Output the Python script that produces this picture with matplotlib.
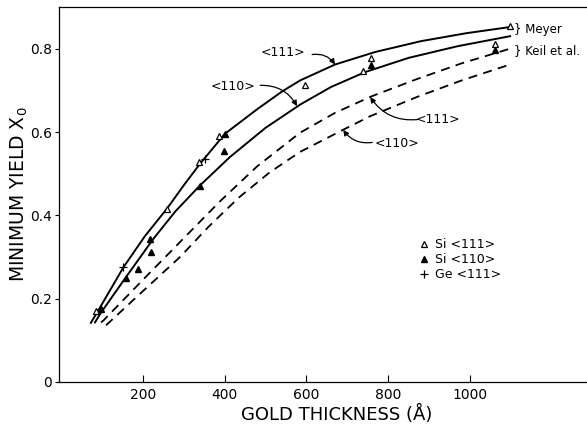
import matplotlib
matplotlib.use("Agg")
import matplotlib.pyplot as plt

plt.rcParams["mathtext.default"] = "regular"

# curves (gold thickness in Angstrom, minimum yield)
meyer_111_x = [73, 96, 153, 205, 259, 300, 340, 401, 480, 540, 585, 670, 768, 880, 990, 1098]
meyer_111_y = [0.142, 0.180, 0.276, 0.350, 0.416, 0.472, 0.524, 0.596, 0.655, 0.697,
               0.724, 0.762, 0.792, 0.818, 0.837, 0.852]

meyer_110_x = [83, 96, 159, 226, 280, 340, 413, 500, 585, 660, 744, 850, 970, 1098]
meyer_110_y = [0.143, 0.164, 0.252, 0.344, 0.410, 0.472, 0.540, 0.610, 0.666, 0.708,
               0.744, 0.778, 0.806, 0.830]

keil_111_x = [98, 104, 200, 291, 389, 480, 584, 670, 760, 870, 980, 1098]
keil_111_y = [0.143, 0.148, 0.245, 0.336, 0.434, 0.518, 0.598, 0.646, 0.686, 0.727,
              0.765, 0.800]

keil_110_x = [110, 200, 291, 360, 434, 510, 584, 687, 756, 870, 980, 1098]
keil_110_y = [0.136, 0.218, 0.300, 0.372, 0.442, 0.503, 0.552, 0.604, 0.638, 0.684,
              0.724, 0.762]

# measured points
si111_x = [86, 259, 338, 387, 597, 739, 757, 1060, 1098]
si111_y = [0.170, 0.416, 0.528, 0.590, 0.712, 0.746, 0.778, 0.812, 0.854]

si110_x = [97, 159, 188, 220, 218, 340, 399, 400, 757, 1060]
si110_y = [0.176, 0.250, 0.270, 0.313, 0.344, 0.471, 0.554, 0.596, 0.760, 0.798]

ge111_x = [152, 352]
ge111_y = [0.276, 0.535]

xticks = [200, 400, 600, 800, 1000]
yticks = [0, 0.2, 0.4, 0.6, 0.8]
ytick_labels = ["0", "0.2", "0.4", "0.6", "0.8"]

fig = plt.figure(figsize=(5.87, 4.25), dpi=100)
ax = fig.add_axes([0.1005, 0.1012, 0.8995, 0.8823])

ax.plot(meyer_111_x, meyer_111_y, color="black", lw=1.4)
ax.plot(meyer_110_x, meyer_110_y, color="black", lw=1.4)
ax.plot(keil_111_x, keil_111_y, color="black", lw=1.3, linestyle=(0, (5, 3.5)))
ax.plot(keil_110_x, keil_110_y, color="black", lw=1.3, linestyle=(0, (5, 3.5)))

ax.plot(si111_x, si111_y, linestyle="none", marker="^", ms=4.5,
        mfc="white", mec="black", mew=0.9, label="Si <111>")
ax.plot(si110_x, si110_y, linestyle="none", marker="^", ms=5,
        color="black", label="Si <110>")
ax.plot(ge111_x, ge111_y, linestyle="none", marker="+", ms=6,
        color="black", mew=0.9, label="Ge <111>")

# curve labels with leaders
arrow = dict(arrowstyle="-|>", color="black", lw=0.9, mutation_scale=8,
             shrinkA=0, shrinkB=0)
ax.text(543, 0.791, "<111>", ha="center", va="center", fontsize=9)
ax.annotate("", xy=(670, 0.762), xytext=(614, 0.786),
            arrowprops=dict(arrow, connectionstyle="arc3,rad=-0.3"))
ax.text(421, 0.710, "<110>", ha="center", va="center", fontsize=9)
ax.annotate("", xy=(577, 0.662), xytext=(487, 0.712),
            arrowprops=dict(arrow, connectionstyle="arc3,rad=-0.3"))
ax.text(922, 0.630, "<111>", ha="center", va="center", fontsize=9)
ax.annotate("", xy=(756, 0.684), xytext=(873, 0.630),
            arrowprops=dict(arrow, connectionstyle="arc3,rad=-0.3"))
ax.text(822, 0.573, "<110>", ha="center", va="center", fontsize=9)
ax.annotate("", xy=(690, 0.605), xytext=(761, 0.575),
            arrowprops=dict(arrow, connectionstyle="arc3,rad=-0.3"))

ax.text(1108, 0.846, "} Meyer", ha="left", va="center", fontsize=8.5)
ax.text(1108, 0.795, "} Keil et al.", ha="left", va="center", fontsize=8.5)

ax.legend(loc="upper left", bbox_to_anchor=(0.67, 0.40), frameon=False,
          fontsize=9, handlelength=0.8, handletextpad=0.5, labelspacing=0.15,
          borderpad=0)

ax.set_xlim(-5, 1286)
ax.set_ylim(0, 0.9)
ax.set_xticks(xticks)
ax.set_yticks(yticks)
ax.set_yticklabels(ytick_labels)
ax.tick_params(axis="x", direction="in", length=5, width=0.8, labelsize=10, pad=4)
ax.tick_params(axis="y", direction="out", length=3, width=0.8, labelsize=10, pad=2)
ax.spines["right"].set_visible(False)
for s in ["left", "top", "bottom"]:
    ax.spines[s].set_linewidth(0.9)

ax.set_xlabel("GOLD THICKNESS (Å)", fontsize=13)
ax.xaxis.set_label_coords(0.525, -0.06)
ax.set_ylabel("MINIMUM YIELD X$_0$", fontsize=13.5)
ax.yaxis.set_label_coords(-0.054, 0.50)

fig.savefig("out.png", dpi=100)
